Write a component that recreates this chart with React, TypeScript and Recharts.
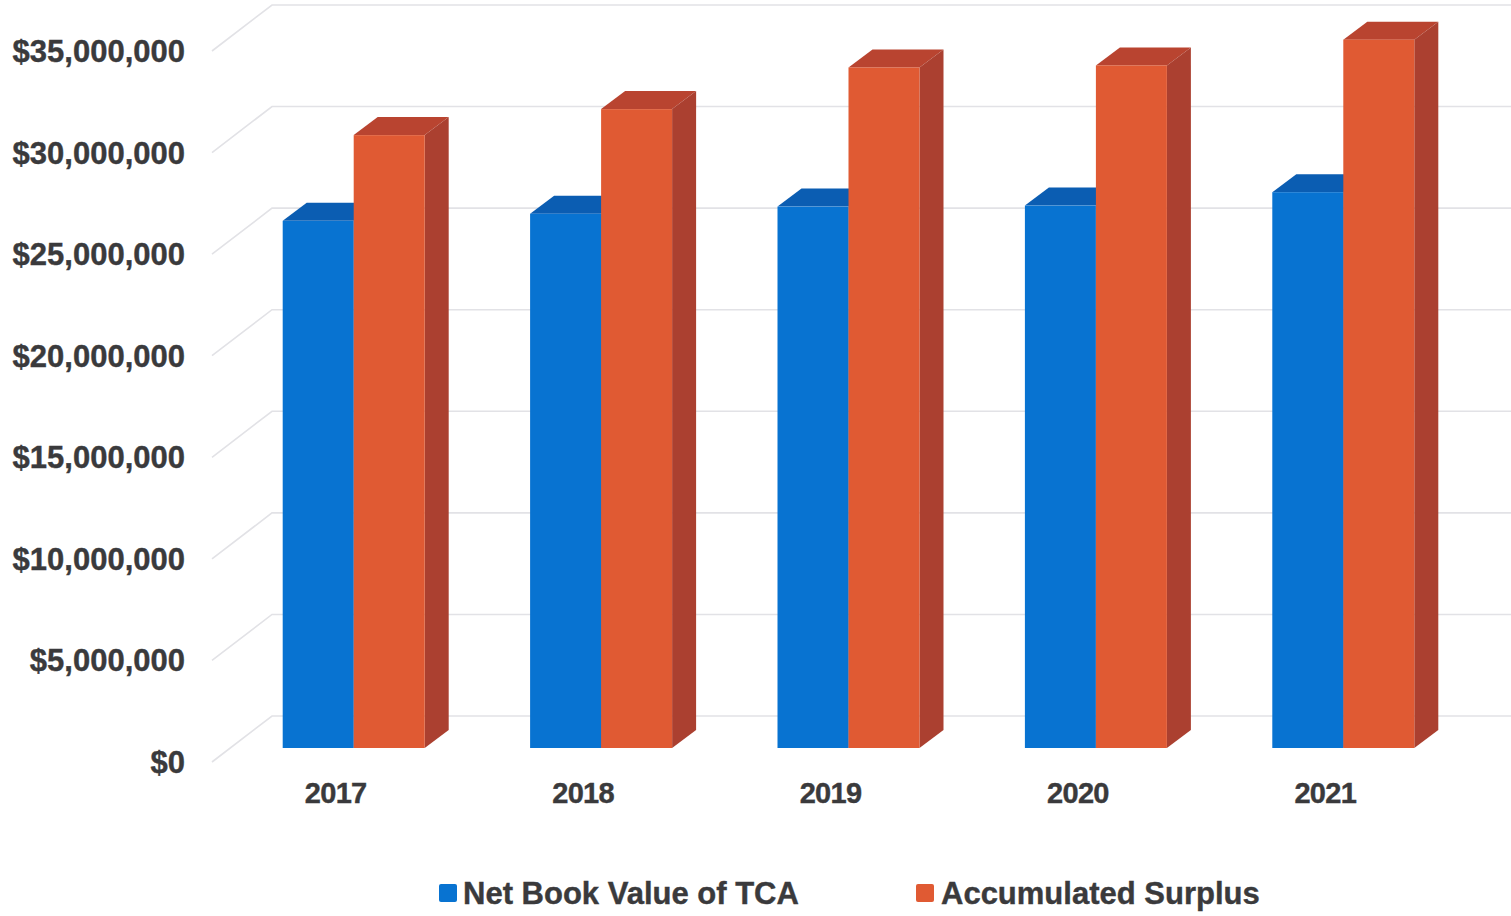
import { Bar, BarChart, CartesianGrid, Legend, XAxis, YAxis } from 'recharts';

const years = ['2017', '2018', '2019', '2020', '2021'];
const netBookValue = [25950000, 26300000, 26650000, 26700000, 27360000];
const accumulatedSurplus = [30170000, 31450000, 33500000, 33600000, 34870000];
const yTicks = [0, 5000000, 10000000, 15000000, 20000000, 25000000, 30000000, 35000000];

const data = years.map((year, i) => ({
  year,
  netBookValue: netBookValue[i],
  accumulatedSurplus: accumulatedSurplus[i],
}));

const TEXT = '#3a3a3c';
const FONT = '"Liberation Sans", Arial, sans-serif';
const DEPTH_X = 24;
const DEPTH_Y = 18;
// the bars stand further back than the axis labels
const BAR_SHIFT_X = 17.7;
const BAR_SHIFT_Y = -14;

const formatMoney = (v: number) => '$' + v.toLocaleString('en-US');

function Bar3D({ x, y, width, height, front, top, side }: any) {
  const l = x + BAR_SHIFT_X;
  const r = l + width;
  const t = y + BAR_SHIFT_Y;
  const b = t + height;
  return (
    <g>
      <path d={`M${l},${t} L${l + DEPTH_X},${t - DEPTH_Y} L${r + DEPTH_X},${t - DEPTH_Y} L${r},${t} Z`} fill={top} />
      <path d={`M${r},${t} L${r + DEPTH_X},${t - DEPTH_Y} L${r + DEPTH_X},${b - DEPTH_Y} L${r},${b} Z`} fill={side} />
      <rect x={l} y={t} width={width} height={height} fill={front} />
    </g>
  );
}

function WallLine({ x1, y1 }: any) {
  return (
    <path
      d={`M${x1},${y1} L${x1 + 60},${y1 - 46} L1511,${y1 - 46}`}
      fill="none"
      stroke="#e2e2e6"
      strokeWidth={1.6}
    />
  );
}

const legendSpots = [
  { swatch: 439, label: 463 },
  { swatch: 916, label: 941 },
];

function ChartLegend({ payload }: any) {
  return (
    <div style={{ position: 'relative', width: 1511, height: 40 }}>
      {(payload || []).map((item: any, i: number) => (
        <div key={item.value}>
          <div
            style={{
              position: 'absolute',
              left: legendSpots[i].swatch,
              top: 7,
              width: 18,
              height: 18,
              borderRadius: 2,
              background: item.color,
            }}
          />
          <div
            style={{
              position: 'absolute',
              left: legendSpots[i].label,
              top: 0,
              fontFamily: FONT,
              fontWeight: 700,
              fontSize: 31,
              lineHeight: '34px',
              color: TEXT,
              WebkitTextStroke: `0.4px ${TEXT}`,
              whiteSpace: 'nowrap',
            }}
          >
            {item.value}
          </div>
        </div>
      ))}
    </div>
  );
}

export default function App() {
  return (
    <div style={{ position: 'absolute', left: 0, top: 0, width: 1511, height: 916, overflow: 'hidden', background: '#fff' }}>
      <BarChart
        width={1511}
        height={916}
        data={data}
        margin={{ top: 51, right: 62, bottom: 54, left: 0 }}
        barSize={71}
        barGap={0}
      >
        <CartesianGrid vertical={false} horizontal={(props: any) => <WallLine key={props.index} {...props} />} />
        <XAxis
          dataKey="year"
          height={60}
          axisLine={false}
          tickLine={false}
          tickSize={0}
          tickMargin={20}
          interval={0}
          tick={{ fill: TEXT, fontFamily: FONT, fontWeight: 700, fontSize: 29, letterSpacing: -0.7, stroke: TEXT, strokeWidth: 0.4 }}
        />
        <YAxis
          width={212}
          domain={[0, 35000000]}
          ticks={yTicks}
          interval={0}
          axisLine={false}
          tickLine={false}
          tickSize={0}
          tickMargin={27}
          tickFormatter={formatMoney}
          tick={{ fill: TEXT, fontFamily: FONT, fontWeight: 700, fontSize: 31, stroke: TEXT, strokeWidth: 0.4 }}
        />
        <Legend
          verticalAlign="bottom"
          align="left"
          itemSorter={null}
          content={<ChartLegend />}
          wrapperStyle={{ left: 0, top: 877, bottom: 'auto', width: 1511 }}
        />
        <Bar
          dataKey="netBookValue"
          name="Net Book Value of TCA"
          fill="#0873d1"
          legendType="square"
          isAnimationActive={false}
          shape={<Bar3D front="#0873d1" top="#0b5db2" side="#0b5db2" />}
        />
        <Bar
          dataKey="accumulatedSurplus"
          name="Accumulated Surplus"
          fill="#e05a33"
          legendType="square"
          isAnimationActive={false}
          shape={<Bar3D front="#e05a33" top="#b94430" side="#ab4030" />}
        />
      </BarChart>
    </div>
  );
}
